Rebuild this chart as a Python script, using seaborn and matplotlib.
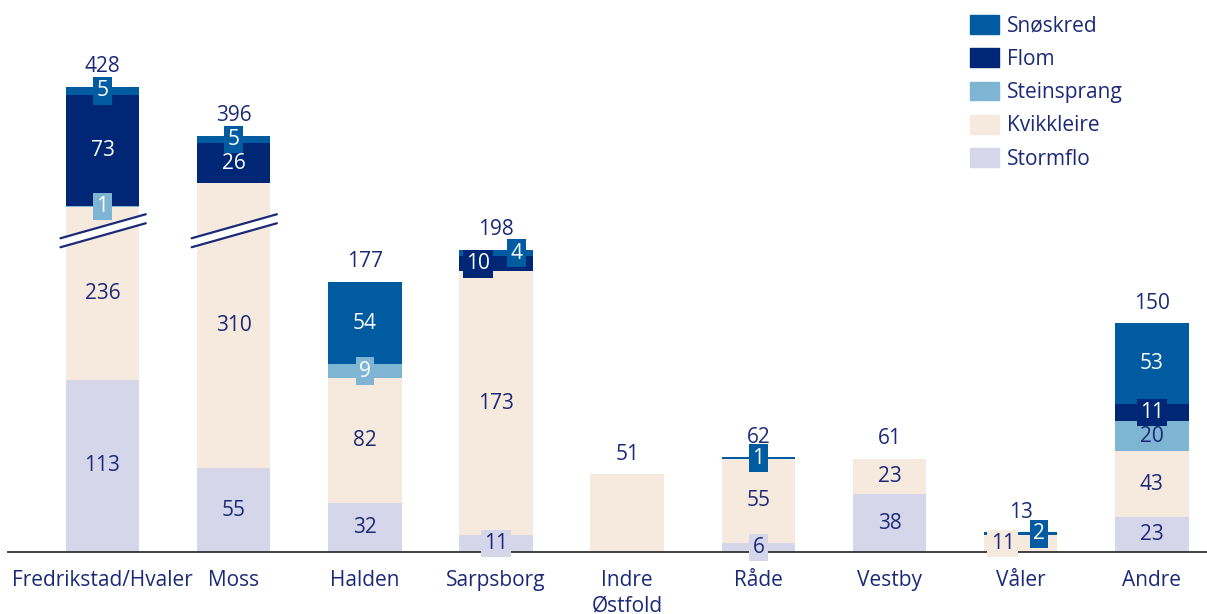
import numpy as np
import matplotlib
matplotlib.use("Agg")
import matplotlib.pyplot as plt
import matplotlib.patches as mpatches
from matplotlib.transforms import blended_transform_factory
import seaborn as sns

# ---- data -------------------------------------------------------------
categories = ["Fredrikstad/Hvaler", "Moss", "Halden", "Sarpsborg",
              "Indre\nØstfold", "Råde", "Vestby", "Våler", "Andre"]
stormflo = [113, 55, 32, 11, 0, 6, 38, 0, 23]
kvikkleire = [236, 310, 82, 173, 51, 55, 23, 11, 43]
steinsprang = [1, 0, 9, 0, 0, 0, 0, 0, 20]
flom = [73, 26, 0, 10, 0, 0, 0, 0, 11]
snoskred = [5, 5, 54, 4, 0, 1, 0, 2, 53]

series_names = ["Stormflo", "Kvikkleire", "Steinsprang", "Flom", "Snøskred"]
series_values = [stormflo, kvikkleire, steinsprang, flom, snoskred]

# ---- style ------------------------------------------------------------
colors = {
    "Snøskred": "#005BA1",
    "Flom": "#002776",
    "Steinsprang": "#7DB5D3",
    "Kvikkleire": "#F6E9DE",
    "Stormflo": "#D6D6EA",
}
dark_layers = {"Snøskred", "Flom", "Steinsprang"}
NAVY = "#1b2a78"
FS = 15

sns.set_theme(style="white")
plt.rcParams["font.family"] = ["Open Sans", "DejaVu Sans"]

# broken value axis: everything between BREAK_AT and BREAK_AT + BREAK_CUT is skipped
BREAK_AT = 211.0
BREAK_CUT = 123.0


def fwd(v):
    v = np.asarray(v, dtype=float)
    return np.where(v <= BREAK_AT, v,
                    np.where(v >= BREAK_AT + BREAK_CUT, v - BREAK_CUT, BREAK_AT))


def inv(d):
    d = np.asarray(d, dtype=float)
    return np.where(d <= BREAK_AT, d, d + BREAK_CUT)


fig = plt.figure(figsize=(12.07, 6.14), dpi=100)
ax = fig.add_axes([8 / 1207, 62 / 614, 1 - 8 / 1207, 552 / 614])

# stacked bars: draw cumulative totals from the top layer down
cum = np.cumsum(np.array(series_values, dtype=float), axis=0)
for k in range(len(series_names) - 1, -1, -1):
    sns.barplot(x=categories, y=cum[k], color=colors[series_names[k]],
                saturation=1, width=0.56, linewidth=0, ax=ax, zorder=2)

ax.set_yscale("function", functions=(fwd, inv))
ax.set_ylim(0, 485)
ax.set_xlim(-0.72, 8.42)

# ---- segment labels ---------------------------------------------------
# horizontal shift (points) for small boxed labels that would otherwise collide
shift = {(3, "Flom"): -13, (3, "Snøskred"): 15,
         (7, "Kvikkleire"): -13, (7, "Snøskred"): 13}

n_segments = (np.array(series_values) > 0).sum(axis=0)
for k, name in enumerate(series_names):
    vals = series_values[k]
    for i, v in enumerate(vals):
        if v == 0 or n_segments[i] < 2:
            continue
        lo = cum[k][i] - v
        hi = cum[k][i]
        yc = float(inv((fwd(lo) + fwd(hi)) / 2))
        txt_color = "white" if name in dark_layers else NAVY
        if v <= 11:
            box = dict(boxstyle="square,pad=0.16", fc=colors[name], ec="none")
        else:
            box = None
            if name == "Steinsprang":
                txt_color = NAVY
        ax.annotate(str(v), (i, yc), xytext=(shift.get((i, name), 0), 0),
                    textcoords="offset points", ha="center", va="center",
                    fontsize=FS, color=txt_color, bbox=box, zorder=6)

# totals above each bar
totals = cum[-1]
for i, t in enumerate(totals):
    ax.annotate(f"{int(t)}", (i, t), xytext=(0, 14.5), textcoords="offset points",
                ha="center", va="center", fontsize=FS, color=NAVY, zorder=6)

# break marks on bars that cross the gap
tr = blended_transform_factory(ax.transData, ax.transAxes)
px = 1 / 552
for i in range(len(categories)):
    if cum[1][i] > BREAK_AT + BREAK_CUT:
        x0, x1 = i - 0.32, i + 0.33
        y_mid = BREAK_AT / 362
        la = (y_mid - 8 * px, y_mid + 16 * px)
        lb = (y_mid - 17 * px, y_mid + 7 * px)
        ax.add_patch(mpatches.Polygon([(x0, la[0]), (x1, la[1]), (x1, lb[1]), (x0, lb[0])],
                                      closed=True, fc="white", ec="none",
                                      transform=tr, zorder=4))
        ax.plot([x0, x1], la, color=NAVY, lw=1.6, transform=tr, zorder=5)
        ax.plot([x0, x1], lb, color=NAVY, lw=1.6, transform=tr, zorder=5)

# ---- axes cosmetics ---------------------------------------------------
for s in ["left", "right", "top"]:
    ax.spines[s].set_visible(False)
ax.spines["bottom"].set_color("#333333")
ax.spines["bottom"].set_linewidth(1.3)
ax.set_yticks([])
ax.set_ylabel("")
ax.tick_params(axis="x", length=0, pad=13, labelsize=FS, labelcolor=NAVY)
for lbl in ax.get_xticklabels():
    lbl.set_linespacing(1.25)
ax.grid(False)

# ---- legend -----------------------------------------------------------
legend_order = ["Snøskred", "Flom", "Steinsprang", "Kvikkleire", "Stormflo"]
handles = [mpatches.Patch(color=colors[n], label=n) for n in legend_order]
fig.legend(handles=handles, loc="upper left", bbox_to_anchor=(970 / 1207, 1 - 15 / 614),
           frameon=False, fontsize=FS, labelcolor=NAVY, handlelength=1.4,
           handleheight=1.0, labelspacing=0.57, handletextpad=0.36, borderpad=0,
           borderaxespad=0)

fig.savefig("out.png", dpi=100)
